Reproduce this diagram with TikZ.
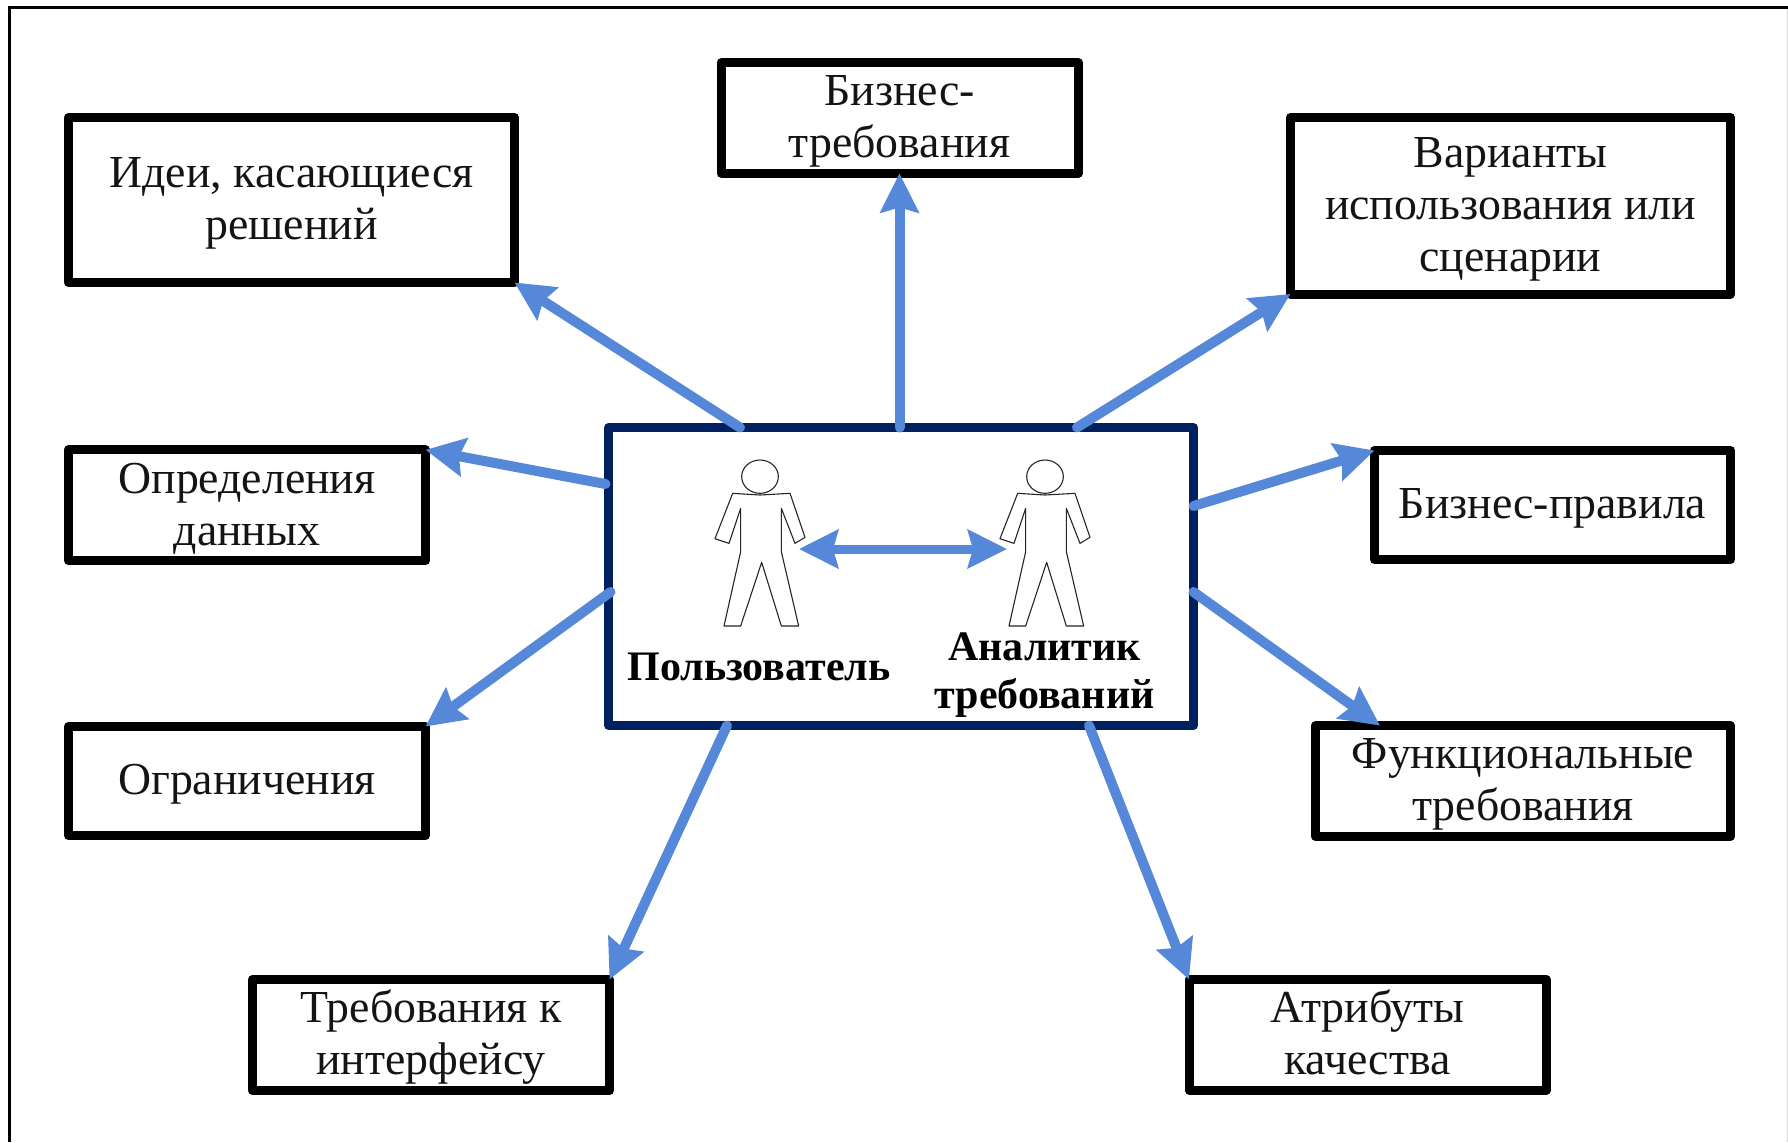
\documentclass[tikz,border=0pt]{standalone}
\usepackage{fontspec}
\setmainfont{Liberation Serif}
\usetikzlibrary{arrows.meta,calc}
\definecolor{flowblue}{HTML}{5588D8}
\definecolor{navy}{HTML}{002060}
\newcommand\firstline{\rule{0pt}{21.6pt}}
\tikzset{
  reqbox/.style={draw=black,line width=4.5pt,line join=round,fill=white,inner sep=0pt,outer sep=0pt,align=center,text=black!92,
    font=\fontsize{22.9}{26}\selectfont},
  centrebox/.style={draw=navy,line width=4.25pt,line join=round,fill=white,inner sep=0pt,outer sep=0pt},
  flow/.style={draw=flowblue,line width=5pt,line cap=round,-{Stealth[length=19.5pt,width=19pt,inset=2.5pt]}},
  bothways/.style={draw=flowblue,line width=4.5pt,{Stealth[length=19.5pt,width=19pt,inset=2.5pt]}-{Stealth[length=19.5pt,width=19pt,inset=2.5pt]}},
  rolelabel/.style={inner sep=0pt,align=center,font=\fontsize{21}{24}\selectfont\bfseries},
  outline/.style={draw=black!85,line width=.55pt,line join=round},
  pics/person/.style={code={
    \draw[outline] (240,110) ellipse [x radius=55,y radius=50];
    \draw[outline] (158,160) -- (240,165) -- (330,160) -- (375,292) -- (345,310) -- (304,205) -- (304,335) -- (356,558) -- (304,558) -- (245,367) -- (182,558) -- (132,558) -- (182,335) -- (182,205) -- (147,310) -- (105,296) -- cycle;
  }}
}
\begin{document}
\begin{tikzpicture}[x=.5pt,y=-.5pt]
\useasboundingbox (0,0) rectangle (1788,1142);
\fill[white] (0,0) rectangle (1788,1142);
\draw[black,line width=1.5pt] (9.5,1142) -- (9.5,7.5) -- (1788,7.5);
\draw[black!15,line width=.5pt] (1787,9) -- (1787,1142);

\node[reqbox,minimum width=223pt,minimum height=82.5pt] (idei) at (291.5,200) {\firstline Идеи, касающиеся\\решений\strut};
\node[reqbox,minimum width=178.5pt,minimum height=54.5pt] (biz) at (899.5,118) {\firstline Бизнес-\\требования\strut};
\node[reqbox,minimum width=220pt,minimum height=88.25pt] (var) at (1510.5,205.75) {\firstline Варианты\\использования или\\сценарии\strut};
\node[reqbox,minimum width=178.5pt,minimum height=53.75pt] (def) at (247,505.25) {\firstline Определения\\данных\strut};
\node[reqbox,minimum width=178pt,minimum height=54.5pt] (rules) at (1552.5,505) {\firstline Бизнес-правила\strut};
\node[reqbox,minimum width=178.5pt,minimum height=54.5pt] (con) at (247,781) {\firstline Ограничения\strut};
\node[reqbox,minimum width=207.5pt,minimum height=54.5pt] (func) at (1523,781) {\firstline Функциональные\\требования\strut};
\node[reqbox,minimum width=178.5pt,minimum height=55.5pt] (iface) at (431,1035) {\firstline Требования к\\интерфейсу\strut};
\node[reqbox,minimum width=178.5pt,minimum height=55.5pt] (attr) at (1367.5,1035) {\firstline Атрибуты\\качества\strut};

\node[centrebox,minimum width=292.5pt,minimum height=149pt] (c) at (901,576.5) {};

\pic[scale=1/3] at (680,440) {person};
\pic[scale=1/3] at (965,440) {person};
\node[rolelabel] (user) at (759,667) {Пользователь};
\node[rolelabel] (analyst) at (1044.5,675) {Аналитик\\требований};

\coordinate (userside) at (799,549);
\coordinate (analystside) at (1007,549);
\draw[bothways] (userside) -- (analystside);

\draw[flow] ($(c.north west)+(131.5,0)$) -- (idei.south east);
\draw[flow] (biz.south |- c.north) -- (biz.south);
\draw[flow] ($(c.north west)+(468.5,0)$) -- (var.south west);
\draw[flow] ($(c.north west)+(-3,56.5)$) -- (def.north east);
\draw[flow] ($(c.north east)+(0,78.5)$) -- (rules.north west);
\draw[flow] ($(c.north west)+(2,164.5)$) -- (con.north east);
\draw[flow] ($(c.north east)+(0,164.5)$) -- ($(func.north west)+(64.5,0)$);
\draw[flow] ($(c.south west)+(118.5,0)$) -- (iface.north east);
\draw[flow] ($(c.south west)+(480.5,0)$) -- (attr.north west);
\end{tikzpicture}
\end{document}
